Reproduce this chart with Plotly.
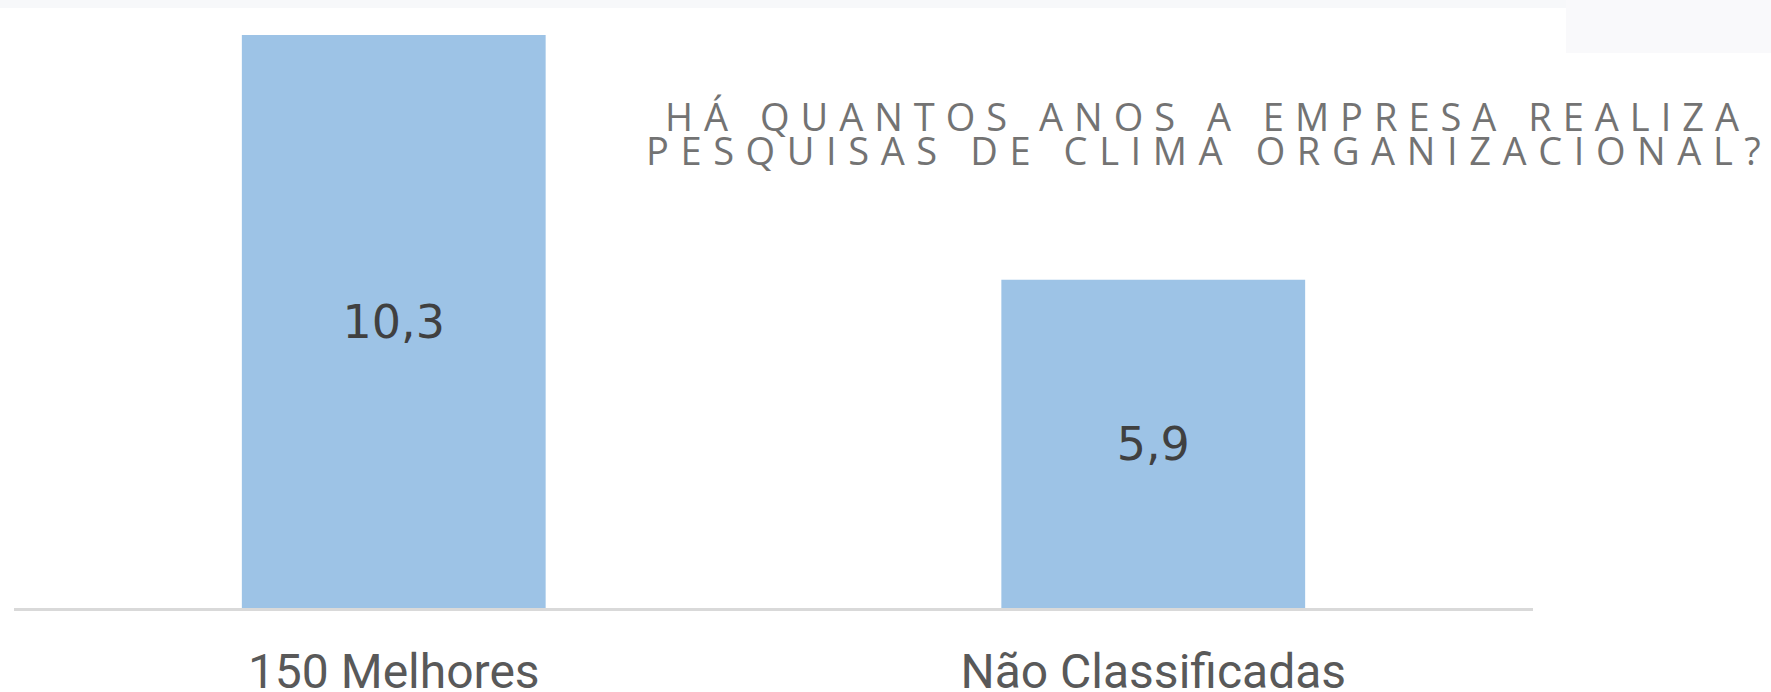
import plotly.graph_objects as go

categories = ["150 Melhores", "Não Classificadas"]
values = [10.3, 5.9]
value_labels = ["10,3", "5,9"]
title_lines = ["HÁ QUANTOS ANOS A EMPRESA REALIZA", "PESQUISAS DE CLIMA ORGANIZACIONAL?"]

W, H = 1771, 692
L, R, T, B = 14, 238, 20, 84

fig = go.Figure(go.Bar(
    x=categories, y=values, text=value_labels,
    textposition="inside", insidetextanchor="middle",
    textfont=dict(family="DejaVu Sans", size=46, color="#404040"),
    marker=dict(color="#9DC3E6", line=dict(width=0)),
    width=0.4, hoverinfo="skip",
))

def py(pix):
    return (H - B - pix) / (H - T - B)

def px(pix):
    return (pix - L) / (W - L - R)

for line, xl, yc, sp in zip(title_lines, [663, 644], [116, 150], [11, 11.6]):
    fig.add_annotation(
        text=f'<span style="letter-spacing:{sp}px">{line}</span>',
        xref="paper", yref="paper", x=px(xl), y=py(yc),
        xanchor="left", yanchor="middle", showarrow=False,
        font=dict(family="Open Sans", size=38, color="#737373"),
    )

fig.update_layout(
    width=W, height=H,
    margin=dict(l=L, r=R, t=T, b=B, pad=0, autoexpand=False),
    paper_bgcolor="white", plot_bgcolor="white",
    showlegend=False,
    shapes=[
        dict(type="rect", xref="paper", yref="paper", x0=px(0), x1=px(1566), y0=py(8), y1=py(0),
             fillcolor="#F7F8FA", line=dict(width=0), layer="below"),
        dict(type="rect", xref="paper", yref="paper", x0=px(1566), x1=px(1771), y0=py(53), y1=py(0),
             fillcolor="#F9F9FB", line=dict(width=0), layer="below"),
    ],
)
fig.update_xaxes(
    range=[-0.5, 1.5], showline=True, linecolor="#D9D9D9", linewidth=3,
    ticks="", showgrid=False, ticklabelstandoff=19, automargin=False,
    tickfont=dict(family="Roboto", size=48, color="#595959"),
)
fig.update_yaxes(range=[0, 10.57], visible=False, showgrid=False, zeroline=False, automargin=False)

fig.write_html("out.html", config={"displayModeBar": False},
               post_script="document.body.style.margin='0';document.body.style.overflow='hidden';")
